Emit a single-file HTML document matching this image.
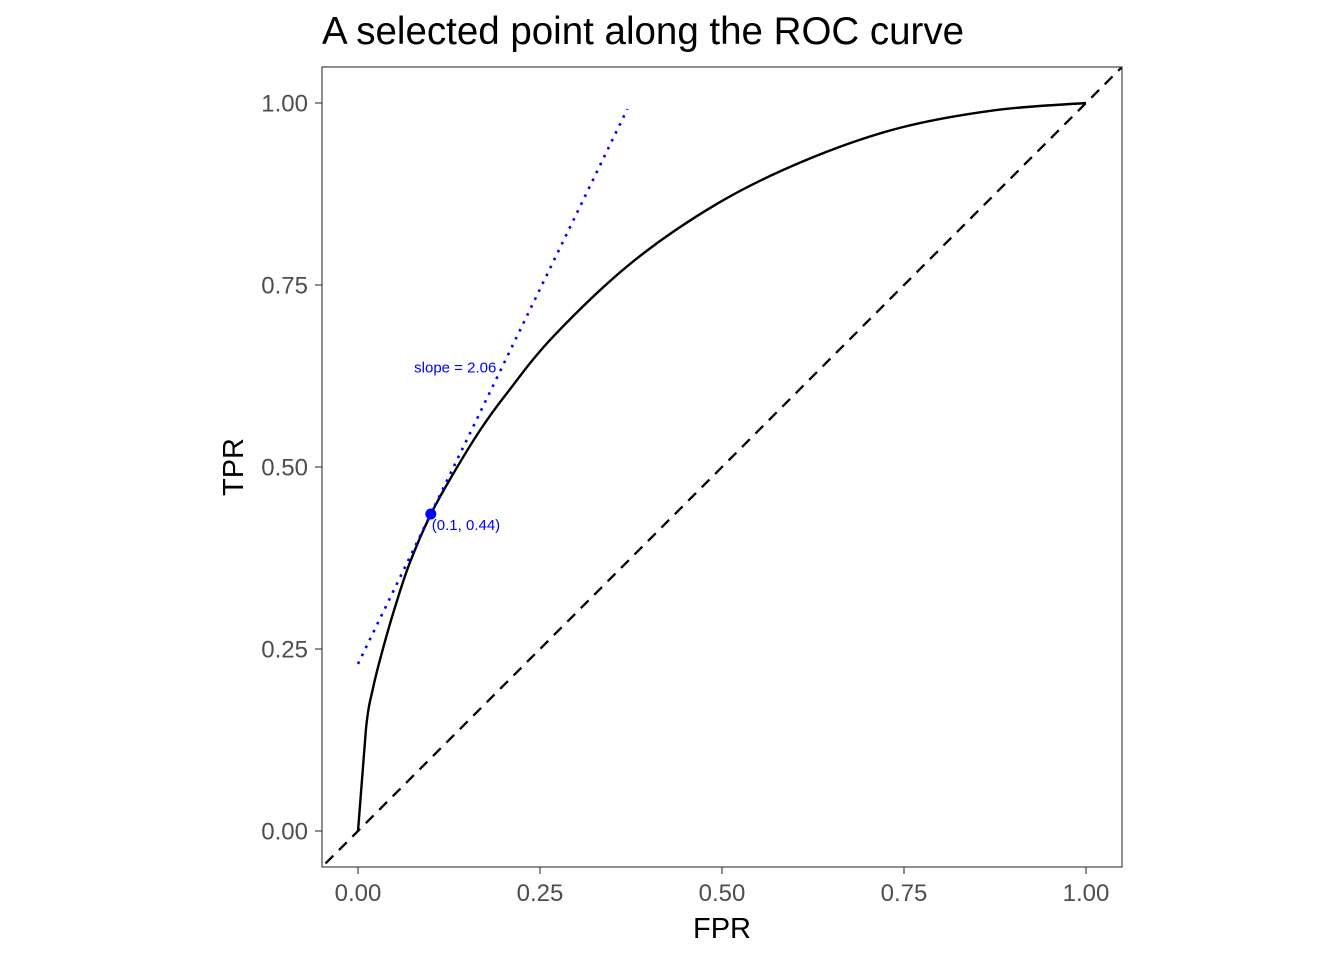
<!DOCTYPE html>
<html><head><meta charset="utf-8"><style>
body{margin:0;background:#fff;}
svg text{font-family:"Liberation Sans",Arial,sans-serif;}
</style></head><body>
<svg id="chart" width="1344" height="960" viewBox="0 0 1344 960" xmlns="http://www.w3.org/2000/svg">
<rect width="1344" height="960" fill="#fff"/>
<text x="322" y="44" font-size="38.5" fill="#000">A selected point along the ROC curve</text>
<defs><clipPath id="pc"><rect x="322" y="67" width="800" height="800"/></clipPath></defs>
<g id="plot" clip-path="url(#pc)"></g>
<rect x="322" y="67" width="800" height="800" fill="none" stroke="#333" stroke-width="1.1"/>
<g id="axes"></g>
<text x="722" y="938" font-size="29" text-anchor="middle" fill="#000">FPR</text>
<text transform="translate(243,467) rotate(-90)" font-size="29" text-anchor="middle" fill="#000">TPR</text>
</svg>
<script>
const fprValues=[0,0.011,0.021,0.035,0.051,0.071,0.100,0.131,0.168,0.202,0.268,0.375,0.494,0.614,0.741,0.874,1.0];
const tprValues=[0,0.141,0.198,0.253,0.308,0.368,0.435,0.491,0.551,0.598,0.679,0.780,0.862,0.921,0.965,0.990,1.0];
const selectedPoint=[0.1,0.4355];
const slopeValue=2.06;
const tangentRange=[0,0.37];
const tickValues=[0,0.25,0.5,0.75,1];
const tickLabels=["0.00","0.25","0.50","0.75","1.00"];
const NS="http://www.w3.org/2000/svg";
const sx=v=>358+v*728, sy=v=>831-v*728;
const plot=document.getElementById('plot'), axes=document.getElementById('axes');
function mk(tag,attrs,parent){const e=document.createElementNS(NS,tag);for(const k in attrs)e.setAttribute(k,attrs[k]);parent.appendChild(e);return e;}
let d=mk('line',{x1:sx(-0.1),y1:sy(-0.1),x2:sx(1.1),y2:sy(1.1),stroke:'#000','stroke-width':2.3,'stroke-dasharray':'11,8'},plot);


const pts=fprValues.map((f,i)=>[sx(f),sy(tprValues[i])]);
let pd='M'+pts[0][0]+','+pts[0][1]+' L'+pts[1][0]+','+pts[1][1];
for(let i=1;i<pts.length-1;i++){
  const p0=pts[i-1],p1=pts[i],p2=pts[i+1],p3=pts[Math.min(i+2,pts.length-1)];
  const c1=[p1[0]+(p2[0]-p0[0])/6,p1[1]+(p2[1]-p0[1])/6];
  const c2=[p2[0]-(p3[0]-p1[0])/6,p2[1]-(p3[1]-p1[1])/6];
  pd+=' C'+c1[0]+','+c1[1]+' '+c2[0]+','+c2[1]+' '+p2[0]+','+p2[1];
}
let c=mk('path',{d:pd,fill:'none',stroke:'#000','stroke-width':2.4},plot);


const ty=x=>selectedPoint[1]+slopeValue*(x-selectedPoint[0]);
let t=mk('line',{x1:sx(tangentRange[0]),y1:sy(ty(tangentRange[0])),x2:sx(tangentRange[1]),y2:sy(ty(tangentRange[1])),stroke:'#00f','stroke-width':2.6,'stroke-dasharray':'2.6,6.2'},plot);


let p=mk('circle',{cx:sx(selectedPoint[0]),cy:sy(selectedPoint[1]),r:5.5,fill:'#00f'},plot);


let l1=mk('text',{x:sx(selectedPoint[0])+1,y:sy(selectedPoint[1])+16,'font-size':15,fill:'#00f'},plot);
l1.textContent='('+selectedPoint[0]+', '+selectedPoint[1].toFixed(2)+')';


let l2=mk('text',{x:sx(0.19),y:sy(0.637)+5,'font-size':15,fill:'#00f','text-anchor':'end'},plot);
l2.textContent='slope = '+slopeValue.toFixed(2);


tickValues.forEach((v,i)=>{
  let a=mk('line',{x1:315,x2:322,y1:sy(v),y2:sy(v),stroke:'#333','stroke-width':1.1},axes);
  
  
  let b=mk('text',{x:308,y:sy(v)+8.5,'font-size':24,fill:'#4d4d4d','text-anchor':'end'},axes);
  b.textContent=tickLabels[i];
  
  
  let e=mk('line',{x1:sx(v),x2:sx(v),y1:867,y2:874,stroke:'#333','stroke-width':1.1},axes);
  
  
  let f=mk('text',{x:sx(v),y:901,'font-size':24,fill:'#4d4d4d','text-anchor':'middle'},axes);
  f.textContent=tickLabels[i];
  
  
});
</script>
</body></html>
